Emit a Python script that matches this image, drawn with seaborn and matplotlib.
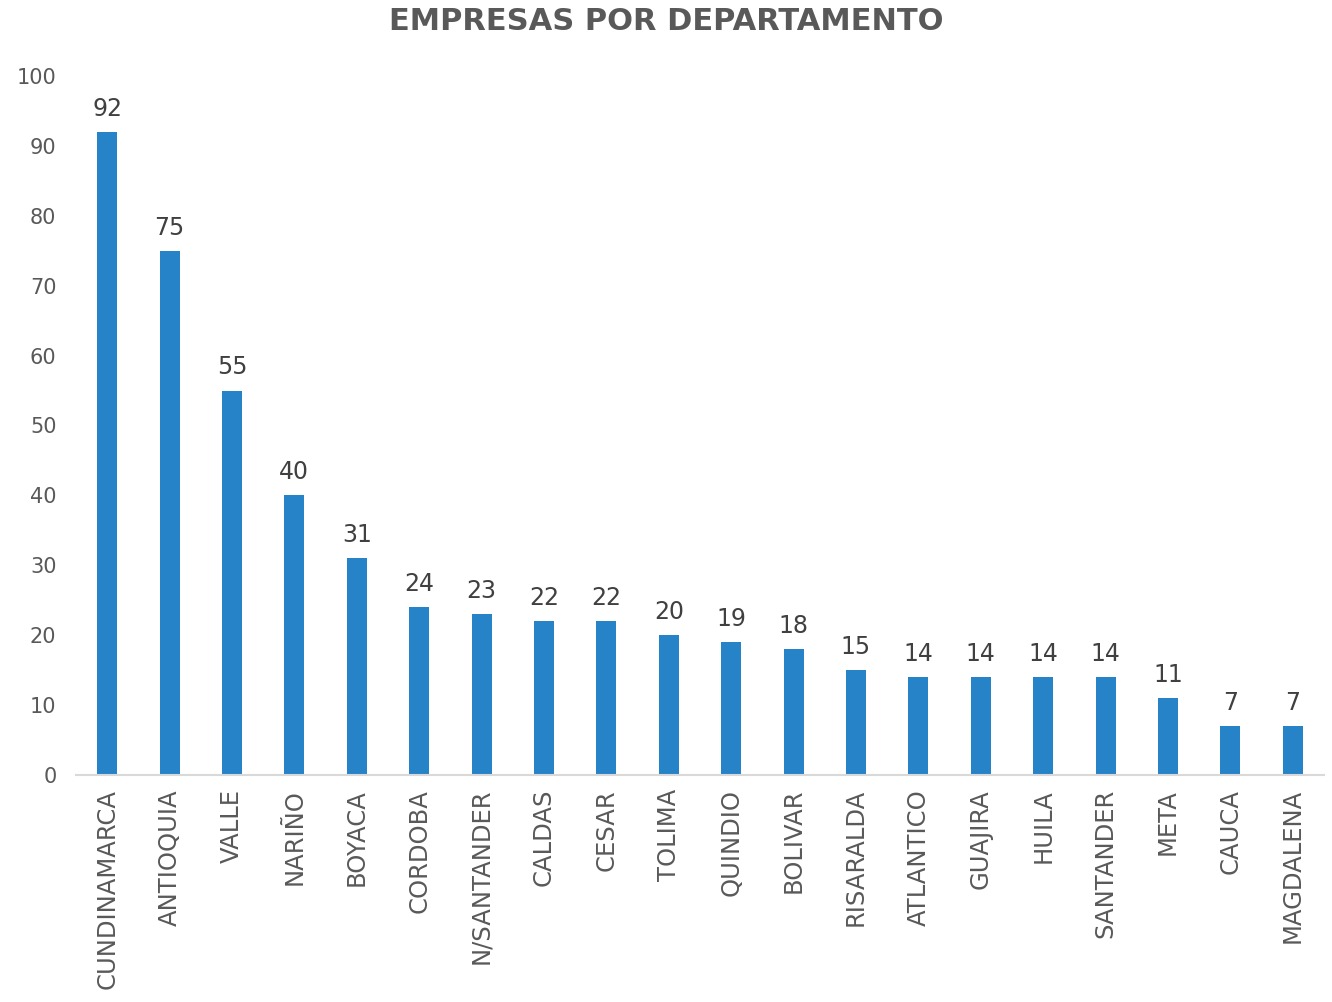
import matplotlib
matplotlib.use("Agg")
import matplotlib.pyplot as plt
import seaborn as sns

departamentos = ["CUNDINAMARCA", "ANTIOQUIA", "VALLE", "NARIÑO", "BOYACA", "CORDOBA",
                 "N/SANTANDER", "CALDAS", "CESAR", "TOLIMA", "QUINDIO", "BOLIVAR",
                 "RISARALDA", "ATLANTICO", "GUAJIRA", "HUILA", "SANTANDER", "META",
                 "CAUCA", "MAGDALENA"]
empresas = [92, 75, 55, 40, 31, 24, 23, 22, 22, 20, 19, 18, 15, 14, 14, 14, 14, 11, 7, 7]

sns.set_style("white")
plt.rcParams['font.family'] = ['DejaVu Sans']

fig = plt.figure(figsize=(13.32, 10.02), dpi=100)
ax = fig.add_axes([0.057, 0.2265, 0.937, 0.6977])

sns.barplot(x=departamentos, y=empresas, color="#2783C8", width=0.32,
            saturation=1, linewidth=0, ax=ax)

for c in ax.containers:
    ax.bar_label(c, padding=8, fontsize=17, color="#404040")

ax.set_ylim(0, 100)
ax.set_yticks(range(0, 101, 10))
ax.set_xlim(-0.5, len(departamentos) - 0.5)
ax.tick_params(axis="y", length=0, pad=14, labelsize=15, labelcolor="#595959")
ax.tick_params(axis="x", length=0, pad=10, labelsize=17.5, labelcolor="#595959",
               labelrotation=90)
for s in ["top", "right", "left"]:
    ax.spines[s].set_visible(False)
ax.spines["bottom"].set_color("#D9D9D9")
ax.spines["bottom"].set_linewidth(1.5)

fig.suptitle("EMPRESAS POR DEPARTAMENTO", y=0.993, va="top", fontsize=22,
             fontweight="bold", color="#595959")

fig.savefig("out.png", dpi=100)
